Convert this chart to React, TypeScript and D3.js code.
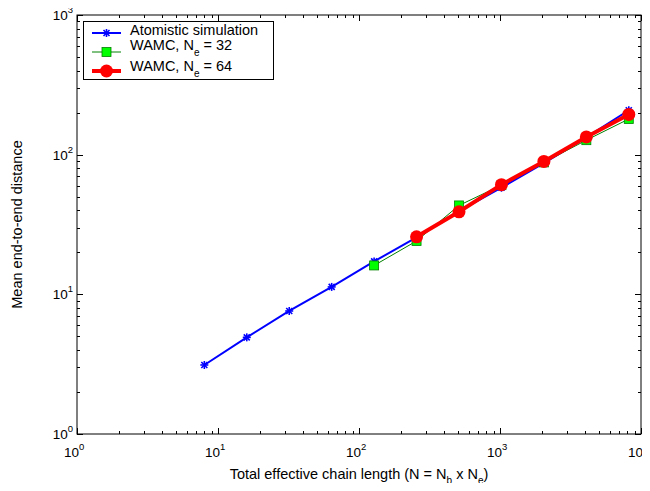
import React, { useEffect, useRef } from "react";
import * as d3 from "d3";

const chainLength = [8, 16, 32, 64, 128, 256, 512, 1024, 2048, 4096, 8192];
const atomistic = [3.12, 4.92, 7.6, 11.3, 17.2, 25.6, 39.4, 58, 87, 133, 208];
const wamc32X = [128, 256, 512, 1024, 2048, 4096, 8192];
const wamc32 = [16.1, 24.1, 43.3, 60.5, 88, 127, 180];
const wamc64X = [256, 512, 1024, 2048, 4096, 8192];
const wamc64 = [25.8, 39.0, 61.0, 89.5, 134, 194];
const decades = [0, 1, 2, 3, 4];
const yDecades = [0, 1, 2, 3];

const App = () => {
  const svgRef = useRef<SVGSVGElement>(null);

  useEffect(() => {
    const width = 650;
    const height = 491;
    const margin = { top: 15, right: 9, bottom: 57, left: 77 };
    const font = "Arial, 'Liberation Sans', sans-serif";

    const svg = d3.select(svgRef.current);
    svg.selectAll("*").remove();

    const x = d3.scaleLog().domain([1, 1e4]).range([margin.left, width - margin.right]);
    const y = d3.scaleLog().domain([1, 1e3]).range([height - margin.bottom, margin.top]);
    const [x0, x1] = x.range();
    const [y0, y1] = y.range();

    // ticks on all four sides, pointing inward
    const tickG = svg.append("g").attr("stroke", "#000").attr("stroke-width", 1);
    const minor = [2, 3, 4, 5, 6, 7, 8, 9];
    decades.forEach((d) => {
      const base = Math.pow(10, d);
      const vals = [{ v: base, len: 6 }];
      if (d < 4) minor.forEach((m) => vals.push({ v: base * m, len: 3 }));
      vals.forEach(({ v, len }) => {
        const px = Math.round(x(v)) + 0.5;
        tickG.append("line").attr("x1", px).attr("x2", px).attr("y1", y0).attr("y2", y0 - len);
        tickG.append("line").attr("x1", px).attr("x2", px).attr("y1", y1).attr("y2", y1 + len);
      });
    });
    yDecades.forEach((d) => {
      const base = Math.pow(10, d);
      const vals = [{ v: base, len: 6 }];
      if (d < 3) minor.forEach((m) => vals.push({ v: base * m, len: 3 }));
      vals.forEach(({ v, len }) => {
        const py = Math.round(y(v)) + 0.5;
        tickG.append("line").attr("x1", x0).attr("x2", x0 + len).attr("y1", py).attr("y2", py);
        tickG.append("line").attr("x1", x1).attr("x2", x1 - len).attr("y1", py).attr("y2", py);
      });
    });

    svg
      .append("rect")
      .attr("x", x0)
      .attr("y", y1)
      .attr("width", x1 - x0)
      .attr("height", y0 - y1)
      .attr("fill", "none")
      .attr("stroke", "#000")
      .attr("stroke-width", 1);

    // tick labels
    decades.forEach((d) => {
      const t = svg
        .append("text")
        .attr("x", x(Math.pow(10, d)) - 13)
        .attr("y", y0 + 23)
        .attr("font-family", font)
        .attr("font-size", 13.5);
      t.append("tspan").text("10");
      t.append("tspan").attr("dy", -7).attr("font-size", 9.5).text(d);
    });
    yDecades.forEach((d) => {
      const t = svg
        .append("text")
        .attr("x", x0 - 4)
        .attr("y", y(Math.pow(10, d)) + 5)
        .attr("text-anchor", "end")
        .attr("font-family", font)
        .attr("font-size", 13.5);
      t.append("tspan").text("10");
      t.append("tspan").attr("dy", -7).attr("font-size", 9.5).text(d);
    });

    // axis titles
    const xt = svg
      .append("text")
      .attr("x", (x0 + x1) / 2)
      .attr("y", 479)
      .attr("text-anchor", "middle")
      .attr("font-family", font)
      .attr("font-size", 14.5);
    xt.append("tspan").text("Total effective chain length (N = N");
    xt.append("tspan").attr("dy", 5).attr("font-size", 10).text("b");
    xt.append("tspan").attr("dy", -5).text(" x N");
    xt.append("tspan").attr("dy", 5).attr("font-size", 10).text("e");
    xt.append("tspan").attr("dy", -5).text(")");

    svg
      .append("text")
      .attr("transform", `translate(22,${(y0 + y1) / 2}) rotate(-90)`)
      .attr("text-anchor", "middle")
      .attr("font-family", font)
      .attr("font-size", 14.5)
      .text("Mean end-to-end distance");

    const line = d3
      .line<[number, number]>()
      .x((d) => x(d[0]))
      .y((d) => y(d[1]));

    const star = (g: any, cx: number, cy: number, r: number) => {
      const s = g.append("g").attr("stroke", "#0000ff").attr("stroke-width", 1.6);
      s.append("line").attr("x1", cx - r).attr("x2", cx + r).attr("y1", cy).attr("y2", cy);
      s.append("line").attr("x1", cx).attr("x2", cx).attr("y1", cy - r).attr("y2", cy + r);
      const k = r * 0.75;
      s.append("line").attr("x1", cx - k).attr("x2", cx + k).attr("y1", cy - k).attr("y2", cy + k);
      s.append("line").attr("x1", cx - k).attr("x2", cx + k).attr("y1", cy + k).attr("y2", cy - k);
    };
    const square = (g: any, cx: number, cy: number, r: number) =>
      g
        .append("rect")
        .attr("x", cx - r)
        .attr("y", cy - r)
        .attr("width", 2 * r)
        .attr("height", 2 * r)
        .attr("fill", "#00ff00")
        .attr("stroke", "#008000")
        .attr("stroke-width", 0.8);
    const dot = (g: any, cx: number, cy: number, r: number) =>
      g.append("circle").attr("cx", cx).attr("cy", cy).attr("r", r).attr("fill", "#ff0000");

    const plot = svg.append("g");
    const atomData = chainLength.map((c, i) => [c, atomistic[i]] as [number, number]);
    const w32Data = wamc32X.map((c, i) => [c, wamc32[i]] as [number, number]);
    const w64Data = wamc64X.map((c, i) => [c, wamc64[i]] as [number, number]);

    plot.append("path").attr("d", line(atomData)).attr("fill", "none").attr("stroke", "#0000ff").attr("stroke-width", 2);
    atomData.forEach((d) => star(plot, x(d[0]), y(d[1]), 4));

    plot.append("path").attr("d", line(w32Data)).attr("fill", "none").attr("stroke", "#008000").attr("stroke-width", 1);
    w32Data.forEach((d) => square(plot, x(d[0]), y(d[1]), 4.5));

    plot.append("path").attr("d", line(w64Data)).attr("fill", "none").attr("stroke", "#ff0000").attr("stroke-width", 4).attr("stroke-linejoin", "round");
    w64Data.forEach((d) => dot(plot, x(d[0]), y(d[1]), 6.5));

    // legend
    const lg = svg.append("g");
    lg.append("rect").attr("x", 83.5).attr("y", 21.5).attr("width", 190).attr("height", 58).attr("fill", "#fff").attr("stroke", "#000").attr("stroke-width", 1);
    const rows = [33, 52, 71];
    const lx0 = 92;
    const lx1 = 121;
    lg.append("line").attr("x1", lx0).attr("x2", lx1).attr("y1", rows[0]).attr("y2", rows[0]).attr("stroke", "#0000ff").attr("stroke-width", 2);
    star(lg, (lx0 + lx1) / 2, rows[0], 4);
    lg.append("line").attr("x1", lx0).attr("x2", lx1).attr("y1", rows[1]).attr("y2", rows[1]).attr("stroke", "#008000").attr("stroke-width", 1);
    square(lg, (lx0 + lx1) / 2, rows[1], 4.5);
    lg.append("line").attr("x1", lx0).attr("x2", lx1).attr("y1", rows[2]).attr("y2", rows[2]).attr("stroke", "#ff0000").attr("stroke-width", 4);
    dot(lg, (lx0 + lx1) / 2, rows[2], 6.5);

    const legendText = (yy: number) =>
      lg.append("text").attr("x", 130).attr("y", yy).attr("font-family", font).attr("font-size", 14.5);
    legendText(35).text("Atomistic simulation");
    [
      { base: 50, label: "32" },
      { base: 71, label: "64" },
    ].forEach(({ base, label }) => {
      const t = legendText(base);
      t.append("tspan").text("WAMC, N");
      t.append("tspan").attr("dy", 6).attr("font-size", 10).text("e");
      t.append("tspan").attr("dy", -6).text(` = ${label}`);
    });
  }, []);

  return (
    <div style={{ width: 650, height: 491, margin: -8 }}>
      <svg ref={svgRef} width={650} height={491} style={{ display: "block" }}></svg>
    </div>
  );
};

export default App;
